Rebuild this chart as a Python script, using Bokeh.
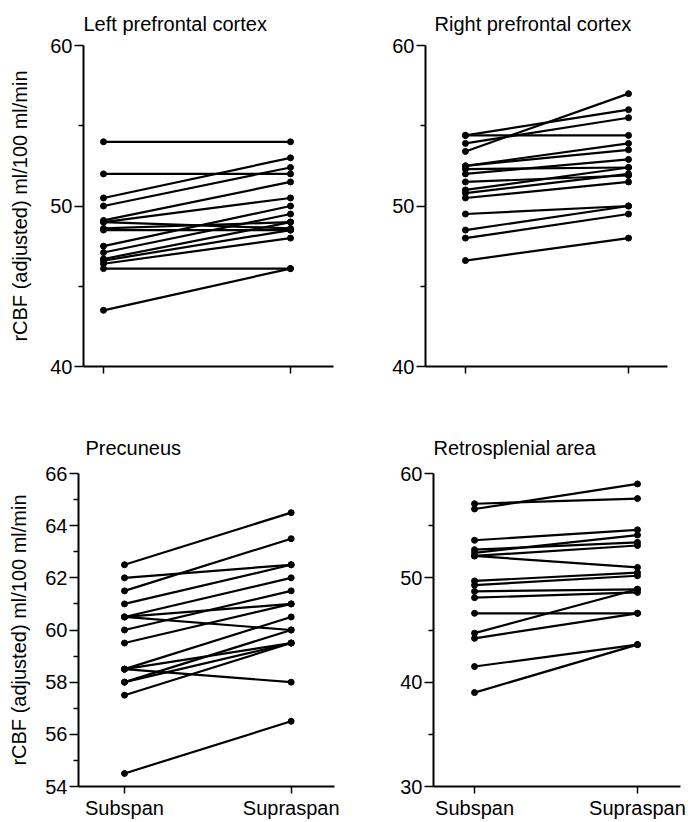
from bokeh.plotting import figure
from bokeh.layouts import column, row
from bokeh.models import FixedTicker, Range1d
from bokeh.embed import file_html
from bokeh.resources import INLINE

conditions = ["Subspan", "Supraspan"]
ylabel = "rCBF (adjusted) ml/100 ml/min"

# Left prefrontal cortex (paired subjects)
lpf_sub = [54.0, 52.0, 50.5, 50.0, 49.1, 49.0, 48.6, 48.5, 47.5, 47.1, 46.7, 46.6, 46.4, 46.1, 43.5, 49.0]
lpf_supra = [54.0, 52.0, 53.0, 52.4, 51.5, 50.5, 49.0, 48.5, 50.0, 49.5, 49.0, 48.5, 48.0, 46.1, 46.1, 48.6]

# Right prefrontal cortex
rpf_sub = [54.4, 54.4, 53.9, 53.4, 52.5, 52.5, 52.3, 52.0, 51.5, 51.0, 50.8, 50.5, 49.5, 48.5, 48.0, 46.6]
rpf_supra = [54.4, 56.0, 55.5, 57.0, 53.9, 53.5, 52.4, 52.9, 51.9, 52.4, 52.0, 51.5, 50.0, 50.0, 49.5, 48.0]

# Precuneus
pre_sub = [62.5, 62.0, 61.5, 61.0, 60.5, 60.5, 60.5, 60.0, 59.5, 58.5, 58.5, 58.5, 58.0, 58.0, 57.5, 54.5]
pre_supra = [64.5, 62.5, 63.5, 62.5, 62.0, 61.0, 60.0, 61.5, 61.0, 60.5, 58.0, 59.5, 60.0, 59.5, 59.5, 56.5]

# Retrosplenial area
rsp_sub = [56.6, 57.1, 53.6, 52.4, 52.7, 52.1, 52.1, 49.7, 49.3, 48.7, 48.1, 46.6, 44.7, 44.2, 41.5, 39.0]
rsp_supra = [59.0, 57.6, 54.6, 54.1, 53.4, 53.1, 51.0, 50.5, 50.2, 48.9, 48.6, 46.6, 48.9, 46.6, 43.6, 43.6]

FONT = "Liberation Sans"


def panel(title, sub, supra, yr, yticks, yminor, xr, width, height,
          bl, br, bt, bb, show_ylabel, show_xlabels, t_offset, t_standoff, yl_standoff):
    p = figure(width=width, height=height, output_backend="svg", toolbar_location=None,
               x_range=Range1d(*xr), y_range=Range1d(*yr),
               min_border_left=bl, min_border_right=br, min_border_top=bt, min_border_bottom=bb)
    p.outline_line_color = None
    p.xgrid.grid_line_color = None
    p.ygrid.grid_line_color = None
    p.background_fill_color = "white"
    p.border_fill_color = "white"

    xs = [[0, 1] for _ in sub]
    ys = [[a, b] for a, b in zip(sub, supra)]
    p.multi_line(xs, ys, line_color="black", line_width=2.2)
    p.scatter([0] * len(sub), sub, size=6, color="black")
    p.scatter([1] * len(supra), supra, size=6, color="black")

    p.title.text = title
    p.title.text_font = FONT
    p.title.text_font_size = "20px"
    p.title.text_font_style = "normal"
    p.title.text_color = "black"
    p.title.align = "left"
    p.title.offset = t_offset
    p.title.standoff = t_standoff

    ya = p.yaxis[0]
    ya.ticker = FixedTicker(ticks=yticks, minor_ticks=yminor)
    ya.axis_line_width = 2
    ya.axis_line_color = "black"
    ya.major_tick_line_width = 1.5
    ya.minor_tick_line_width = 1.5
    ya.major_tick_out = 9
    ya.major_tick_in = 0
    ya.minor_tick_out = 5
    ya.minor_tick_in = 0
    ya.major_label_standoff = 2
    ya.major_label_text_font = FONT
    ya.major_label_text_font_size = "20px"
    ya.major_label_text_color = "black"
    if show_ylabel:
        ya.axis_label = ylabel
        ya.axis_label_text_font = FONT
        ya.axis_label_text_font_size = "20px"
        ya.axis_label_text_font_style = "normal"
        ya.axis_label_text_color = "black"
        ya.axis_label_standoff = yl_standoff

    xa = p.xaxis[0]
    xa.ticker = FixedTicker(ticks=[0, 1], minor_ticks=[])
    xa.axis_line_width = 2
    xa.axis_line_color = "black"
    xa.major_tick_line_width = 1.5
    xa.major_tick_out = 7
    xa.major_tick_in = 0
    xa.minor_tick_out = 0
    xa.minor_tick_in = 0
    xa.major_label_standoff = 3
    xa.major_label_text_font = FONT
    xa.major_label_text_font_size = "20px"
    xa.major_label_text_color = "black"
    if show_xlabels:
        xa.major_label_overrides = {0: conditions[0], 1: conditions[1]}
    else:
        xa.major_label_overrides = {0: "", 1: ""}
    return p


p1 = panel("Left prefrontal cortex", lpf_sub, lpf_supra, (40, 60), [40, 50, 60], [45, 55],
           (-0.107, 1.230), 345, 420, 83, 12, 44, 54, True, False, 0, 21, 16)
p2 = panel("Right prefrontal cortex", rpf_sub, rpf_supra, (40, 60), [40, 50, 60], [45, 55],
           (-0.245, 1.239), 344, 420, 80, 22, 44, 54, False, False, 9, 21, 14)
p3 = panel("Precuneus", pre_sub, pre_supra, (54, 66), list(range(54, 67, 2)), list(range(55, 66, 2)),
           (-0.276, 1.260), 345, 401, 78, 11, 53, 34, True, True, 7, 29, 12)
p4 = panel("Retrosplenial area", rsp_sub, rsp_supra, (30, 60), [30, 40, 50, 60], [35, 45, 55],
           (-0.252, 1.264), 344, 401, 88, 9, 53, 34, False, True, 0, 29, 12)

layout = column(row(p1, p2, spacing=0), row(p3, p4, spacing=0), spacing=0)
open("out.html", "w").write(file_html(layout, INLINE))
